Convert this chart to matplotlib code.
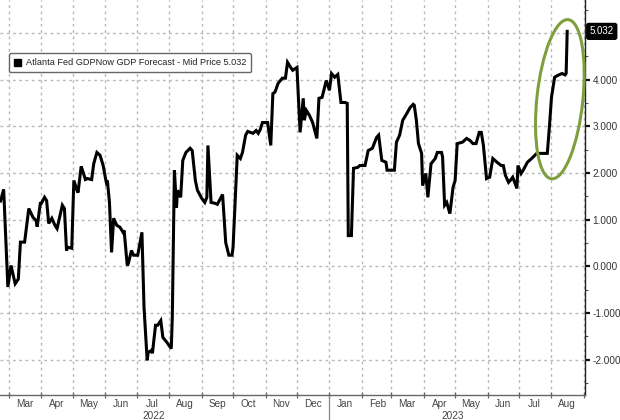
import matplotlib
matplotlib.use("Agg")
import matplotlib.pyplot as plt
import matplotlib.dates as mdates
import matplotlib.transforms as mtransforms
from matplotlib.patches import Ellipse, Patch
import pandas as pd

plt.rcParams['font.family'] = ['Liberation Sans', 'DejaVu Sans']

# GDPNow estimates (date, % SAAR)
dates = [
    "2022-02-21", "2022-02-24", "2022-02-28", "2022-03-03", "2022-03-07", "2022-03-10",
    "2022-03-12", "2022-03-16", "2022-03-20", "2022-03-24", "2022-03-27", "2022-03-28",
    "2022-03-31", "2022-04-01", "2022-04-04", "2022-04-06", "2022-04-08", "2022-04-11",
    "2022-04-14", "2022-04-16", "2022-04-21", "2022-04-23", "2022-04-25", "2022-04-26",
    "2022-04-30", "2022-05-02", "2022-05-05", "2022-05-06", "2022-05-09", "2022-05-11",
    "2022-05-13", "2022-05-15", "2022-05-19", "2022-05-21", "2022-05-24", "2022-05-27",
    "2022-05-30", "2022-06-01", "2022-06-02", "2022-06-03", "2022-06-05", "2022-06-07",
    "2022-06-09", "2022-06-12", "2022-06-15", "2022-06-18", "2022-06-19", "2022-06-22",
    "2022-06-23", "2022-06-26", "2022-06-28", "2022-07-02", "2022-07-06", "2022-07-08",
    "2022-07-11", "2022-07-12", "2022-07-15", "2022-07-16", "2022-07-19", "2022-07-21",
    "2022-07-24", "2022-07-26", "2022-07-30", "2022-08-03", "2022-08-04", "2022-08-06",
    "2022-08-08", "2022-08-09", "2022-08-12", "2022-08-14", "2022-08-17", "2022-08-21",
    "2022-08-23", "2022-08-26", "2022-08-28", "2022-09-01", "2022-09-04", "2022-09-06",
    "2022-09-07", "2022-09-10", "2022-09-14", "2022-09-16", "2022-09-21", "2022-09-24",
    "2022-09-27", "2022-09-30", "2022-10-01", "2022-10-05", "2022-10-08", "2022-10-10",
    "2022-10-13", "2022-10-15", "2022-10-20", "2022-10-23", "2022-10-25", "2022-10-27",
    "2022-10-29", "2022-11-03", "2022-11-06", "2022-11-08", "2022-11-10", "2022-11-13",
    "2022-11-17", "2022-11-20", "2022-11-22", "2022-11-25", "2022-11-27", "2022-12-01",
    "2022-12-04", "2022-12-07", "2022-12-08", "2022-12-10", "2022-12-13", "2022-12-16",
    "2022-12-20", "2022-12-22", "2022-12-25", "2022-12-29", "2023-01-01", "2023-01-03",
    "2023-01-06", "2023-01-09", "2023-01-12", "2023-01-16", "2023-01-18", "2023-01-19",
    "2023-01-22", "2023-01-24", "2023-01-28", "2023-01-30", "2023-02-04", "2023-02-07",
    "2023-02-11", "2023-02-15", "2023-02-17", "2023-02-20", "2023-02-24", "2023-02-25",
    "2023-03-04", "2023-03-06", "2023-03-09", "2023-03-12", "2023-03-16", "2023-03-19",
    "2023-03-22", "2023-03-23", "2023-03-25", "2023-03-27", "2023-03-30", "2023-03-31",
    "2023-04-03", "2023-04-05", "2023-04-08", "2023-04-12", "2023-04-14", "2023-04-18",
    "2023-04-19", "2023-04-21", "2023-04-23", "2023-04-26", "2023-04-29", "2023-05-01",
    "2023-05-03", "2023-05-08", "2023-05-12", "2023-05-15", "2023-05-18", "2023-05-21",
    "2023-05-24", "2023-05-26", "2023-05-28", "2023-05-31", "2023-06-03", "2023-06-06",
    "2023-06-10", "2023-06-14", "2023-06-16", "2023-06-18", "2023-06-21", "2023-06-23",
    "2023-06-25", "2023-06-29", "2023-06-30", "2023-07-03", "2023-07-05", "2023-07-09",
    "2023-07-13", "2023-07-18", "2023-07-28", "2023-07-30", "2023-08-01", "2023-08-04",
    "2023-08-07", "2023-08-11", "2023-08-14", "2023-08-15", "2023-08-16",
]
values = [
    1.40, 1.65, -0.44, 0.02, -0.37, -0.27,
    0.52, 0.52, 1.24, 1.05, 0.98, 0.85,
    1.35, 1.35, 1.48, 1.41, 0.92, 1.03,
    0.88, 0.81, 1.31, 1.24, 0.34, 0.41,
    0.39, 1.84, 1.63, 1.58, 2.14, 2.01,
    1.86, 1.88, 1.86, 2.20, 2.44, 2.38,
    2.16, 1.91, 1.80, 1.84, 1.37, 0.30,
    1.03, 0.88, 0.84, 0.73, 0.77, 0.02,
    0.06, 0.34, 0.24, 0.24, 0.73, -0.88,
    -2.01, -1.84, -1.80, -1.86, -1.26, -1.26,
    -1.16, -1.52, -1.63, -1.76, -1.09, 2.06,
    1.26, 1.63, 1.48, 2.27, 2.44, 2.53,
    2.48, 1.84, 1.63, 1.46, 1.37, 1.48,
    2.59, 1.37, 1.35, 1.33, 1.54, 0.51,
    0.24, 0.24, 0.41, 2.38, 2.31, 2.44,
    2.81, 2.89, 2.85, 2.91, 2.85, 2.93,
    3.08, 3.08, 2.59, 3.70, 3.73, 3.92,
    4.03, 4.03, 4.37, 4.26, 4.20, 4.26,
    2.87, 3.60, 3.13, 3.34, 3.23, 3.08,
    2.74, 3.60, 3.62, 3.98, 3.77, 4.13,
    4.05, 4.11, 3.51, 3.51, 3.49, 0.66,
    0.66, 2.10, 2.12, 2.16, 2.16, 2.48,
    2.53, 2.76, 2.81, 2.27, 2.23, 2.06,
    2.06, 2.66, 2.81, 3.13, 3.28, 3.40,
    3.47, 3.45, 3.13, 2.63, 2.42, 1.73,
    1.99, 1.48, 2.20, 2.31, 2.44, 2.44,
    2.35, 1.31, 1.37, 1.13, 1.69, 1.84,
    2.63, 2.66, 2.74, 2.70, 2.63, 2.63,
    2.87, 2.87, 2.59, 1.88, 1.91, 2.31,
    2.23, 2.16, 2.16, 1.95, 1.80, 1.85,
    1.91, 1.67, 2.16, 1.99, 2.06, 2.23,
    2.31, 2.42, 2.42, 2.98, 3.62, 4.05,
    4.09, 4.13, 4.10, 4.13, 5.032,
]
series_name = "Atlanta Fed GDPNow GDP Forecast - Mid Price 5.032"
last_label = "5.032"
y_ticks = [-2, -1, 0, 1, 2, 3, 4, 5]
year_labels = [("2022-07-17", "2022"), ("2023-04-29", "2023")]
year_break = "2023-01-01"
highlight_date, highlight_value = "2023-08-09", 3.58

x = pd.to_datetime(dates)

fig = plt.figure(figsize=(6.2, 4.2), dpi=100)
ax = fig.add_axes([0.0, 25 / 420, 585 / 620, 395 / 420])

ax.plot(x, values, color="black", linewidth=2.2, solid_joinstyle="miter", zorder=3)

ax.set_xlim(pd.Timestamp("2022-02-20 12:00"), pd.Timestamp("2023-09-02"))
ax.set_ylim(-2.753, 5.704)

# spines
for s in ["top", "left"]:
    ax.spines[s].set_visible(False)
ax.spines["right"].set_color("#222222")
ax.spines["right"].set_linewidth(1.0)
ax.spines["bottom"].set_color("#666666")
ax.spines["bottom"].set_linewidth(1.0)

# y axis on the right
ax.yaxis.tick_right()
ax.set_yticks(y_ticks, labels=[f"{v:.3f}" if v < 5 else "" for v in y_ticks])
ax.yaxis.set_minor_locator(matplotlib.ticker.MultipleLocator(0.5))
ax.tick_params(axis="y", which="major", direction="out", length=3.5, width=1.6,
               color="#111111", labelsize=7.2, labelcolor="#333333", pad=2)
ax.tick_params(axis="y", which="minor", direction="out", length=2, width=0.8, color="#555555")

# x axis: month boundaries as ticks, labels mid-month
ax.xaxis.set_major_locator(mdates.MonthLocator())
ax.xaxis.set_major_formatter(matplotlib.ticker.NullFormatter())
ax.xaxis.set_minor_locator(mdates.MonthLocator(bymonthday=16))
ax.xaxis.set_minor_formatter(mdates.DateFormatter("%b"))
ax.tick_params(axis="x", which="major", direction="inout", length=5, width=0.9, color="#666666")
ax.tick_params(axis="x", which="minor", length=0, labelsize=7.2, labelcolor="#444444", pad=3)

ax.grid(which="major", color="#b8b8b8", linestyle=(0, (2, 2.5)), linewidth=1.0)

# year labels and separator
trans = mtransforms.blended_transform_factory(ax.transData, ax.transAxes)
for d, lab in year_labels:
    ax.text(pd.Timestamp(d), -0.053, lab, transform=trans, ha="center", va="center",
            fontsize=7.2, color="#444444")
ax.plot([pd.Timestamp(year_break)] * 2, [0, -0.07], transform=trans, color="#888888",
        linewidth=0.9, clip_on=False)

# legend
handle = Patch(facecolor="black", edgecolor="black")
leg = ax.legend([handle], [series_name], loc="upper left", bbox_to_anchor=(0.015, 0.865),
                borderaxespad=0, fontsize=6.6, handlelength=0.8, handleheight=0.8,
                handletextpad=0.5, borderpad=0.55, fancybox=True, framealpha=1)
leg.get_frame().set_edgecolor("#666666")
leg.get_frame().set_linewidth(1.0)
for t in leg.get_texts():
    t.set_color("#222222")

# last value tag
ytrans = mtransforms.blended_transform_factory(ax.transAxes, ax.transData)
ax.text(1.008, values[-1], last_label, transform=ytrans, ha="left", va="center",
        fontsize=7.0, color="white", clip_on=False, zorder=5,
        bbox=dict(boxstyle="round,pad=0.3,rounding_size=0.2", facecolor="black", edgecolor="black"))

# green highlight ellipse
etrans = fig.dpi_scale_trans + mtransforms.ScaledTranslation(
    mdates.date2num(pd.Timestamp(highlight_date)), highlight_value, ax.transData)
ax.add_patch(Ellipse((0, 0), width=0.46, height=1.60, angle=-6, transform=etrans,
                     fill=False, edgecolor="#7f9f3f", linewidth=2.2, clip_on=False, zorder=4))

fig.savefig("out.png", dpi=100)
